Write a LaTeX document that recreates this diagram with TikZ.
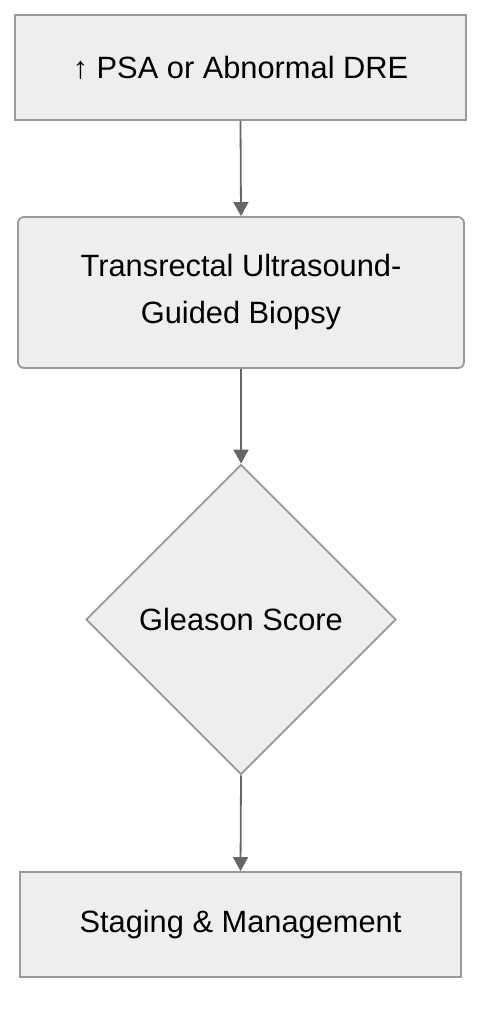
\documentclass[tikz,border=0pt]{standalone}
\usepackage{fontspec}
\setmainfont{Liberation Sans}
\usetikzlibrary{arrows.meta,shapes.geometric}
\definecolor{boxfill}{HTML}{EEEEEE}
\definecolor{boxline}{HTML}{999999}
\definecolor{connline}{HTML}{666666}
\tikzset{
  flowbox/.style={draw=boxline, fill=boxfill, line width=1.8pt, inner sep=0pt,
    font=\fontsize{30.8}{47}\selectfont, text=black, align=center},
  flowdiam/.style={flowbox, diamond, aspect=1},
  conn/.style={draw=connline, line width=1.8pt, -{Triangle[length=14pt,width=15pt]}}
}
\begin{document}
\begin{tikzpicture}[x=1pt,y=-1pt]
\useasboundingbox (0,0) rectangle (498,1024);
\node[flowbox, minimum width=451pt, minimum height=105pt] (b1) at (240.5,67.5) {↑ PSA or Abnormal DRE};
\node[flowbox, rounded corners=6pt, minimum width=446pt, minimum height=151pt] (b2) at (241,292.5) {Transrectal Ultrasound-\\Guided Biopsy};
\node[flowdiam, minimum width=310pt, minimum height=310pt] (d) at (241,619.5) {Gleason Score};
\node[flowbox, minimum width=441pt, minimum height=105pt] (b4) at (240.5,924.5) {Staging \& Management};
\draw[conn] (b1.south) -- (b2.north);
\draw[conn] (b2.south) -- (d.north);
\draw[conn] (d.south) -- (b4.north);
\end{tikzpicture}
\end{document}
